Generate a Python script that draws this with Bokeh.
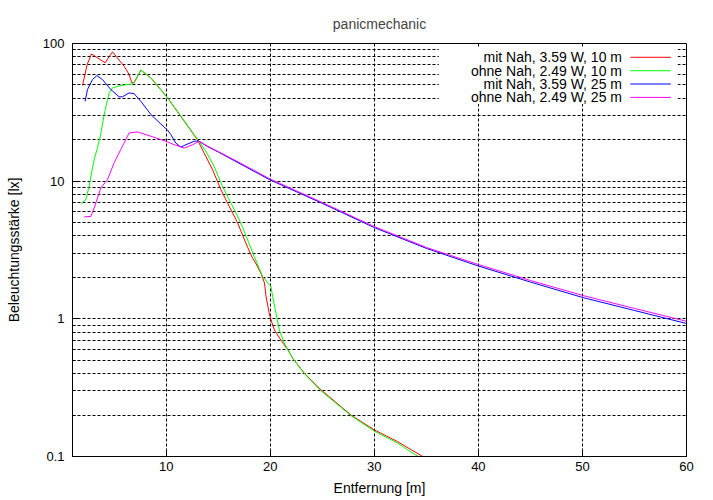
from bokeh.plotting import figure
from bokeh.models import FixedTicker, CustomJSTickFormatter, Label, BoxAnnotation, Arrow, Range1d
from bokeh.embed import file_html
from bokeh.resources import INLINE

# ---- data -------------------------------------------------------------
red_x = [1.96, 2.4, 2.83, 3.4, 4.13, 4.5, 4.85, 5.3, 5.96, 6.44, 6.7, 6.92, 7.2, 7.57, 8.53,
         10.13, 11.73, 13.0, 13.65, 14.46, 15.26, 16.06, 16.87, 17.83, 18.3, 18.6, 19.1, 19.45,
         19.6, 19.9, 20.07, 20.4, 21.03, 21.7, 22.15, 23.27, 24.88, 27.76, 30.0, 32.25, 34.65]
red_y = [49.5, 70, 84, 78.7, 72.4, 80, 87, 78.7, 68.4, 59.5, 51.8, 51.8, 57, 64, 56.3,
         40.3, 27.3, 20, 16, 12.1, 8.67, 6.56, 4.97, 3.3, 2.76, 2.54, 2.15, 1.82,
         1.45, 1.1, 0.983, 0.83, 0.70, 0.595, 0.518, 0.403, 0.305, 0.2, 0.156, 0.128, 0.1]

green_x = [1.8, 2.28, 2.6, 2.92, 3.1, 3.4, 3.72, 3.88, 4.1, 4.37, 4.52, 4.85, 5.64, 6.77, 7.09,
           7.57, 8.53, 10.13, 11.73, 13.0, 13.8, 14.6, 15.4, 16.2, 17.0, 17.35, 18.46, 19.27,
           19.9, 20.07, 20.23, 20.55, 20.87, 21.35, 22.15, 23.27, 24.88, 27.76, 30.0, 32.25, 34.2]
green_y = [6.86, 7.33, 9.2, 12.5, 14.5, 17.5, 22, 26, 32, 39, 43.8, 47.6, 49.5, 50.9, 54.7,
           64, 56.3, 40.3, 27.5, 20.2, 16.6, 12.8, 9.2, 7.0, 5.3, 4.6, 2.84, 2.03,
           1.77, 1.72, 1.45, 1.1, 0.83, 0.666, 0.518, 0.40, 0.30, 0.198, 0.153, 0.125, 0.1]

blue_x = [2.21, 2.44, 2.92, 3.34, 3.88, 4.68, 5.48, 5.8, 6.44, 6.92, 7.57, 8.53, 9.49, 10.13,
          10.45, 10.93, 11.41, 11.9, 12.7, 13.1, 14, 15, 17, 20, 25, 30, 35, 40, 45, 50, 55, 60]
blue_y = [38, 46.3, 54.7, 58.5, 54.7, 46.3, 41, 41, 43.8, 43.2, 38, 30.5, 26, 23.5,
          21.8, 18.9, 17.7, 18.4, 19.5, 19.6, 17.8, 16.3, 13.5, 10.2, 6.9, 4.6, 3.25, 2.42,
          1.85, 1.43, 1.15, 0.925]

mag_x = [2.12, 2.76, 3.08, 3.72, 4.37, 5.0, 5.64, 6.44, 7.25, 8.53, 9.97, 10.77, 11.73, 12.54,
         13.17, 14, 15, 17, 20, 25, 30, 35, 40, 45, 50, 55, 60]
mag_y = [5.5, 5.55, 6.38, 8.9, 10.3, 13.6, 17, 22.4, 22.8, 21.2, 19.5, 18.4, 17.4, 18.4,
         19.5, 17.9, 16.4, 13.7, 10.35, 7.0, 4.68, 3.3, 2.48, 1.9, 1.48, 1.19, 0.96]

series = [
    ("mit Nah, 3.59 W, 10 m", red_x, red_y, "#ff0000"),
    ("ohne Nah, 2.49 W, 10 m", green_x, green_y, "#00ff00"),
    ("mit Nah, 3.59 W, 25 m", blue_x, blue_y, "#0000ff"),
    ("ohne Nah, 2.49 W, 25 m", mag_x, mag_y, "#ff00ff"),
]

x_ticks = [10, 20, 30, 40, 50, 60]
y_ticks = [0.1, 1, 10, 100]
y_minor = [m * d for d in (0.1, 1, 10) for m in range(2, 10)]

# legend layout (data coordinates in the upper right corner)
leg_rows_y = [79.4, 63.4, 50.8, 40.6]
leg_text_x = 53.8
leg_line_x0, leg_line_x1 = 54.6, 58.5

FONT = "Liberation Sans"

p = figure(width=705, height=499, x_range=Range1d(1, 60), y_range=Range1d(0.1, 100),
           y_axis_type="log", output_backend="svg", toolbar_location=None,
           title="panicmechanic", min_border_left=72, min_border_right=19,
           min_border_top=43, min_border_bottom=43)

p.title.align = "center"
p.title.text_font = FONT
p.title.text_font_style = "normal"
p.title.text_font_size = "14px"
p.title.standoff = 24

p.outline_line_color = "black"
p.outline_line_alpha = 1
p.background_fill_color = "white"
p.border_fill_color = "white"

p.xaxis.ticker = FixedTicker(ticks=x_ticks)
p.yaxis.ticker = FixedTicker(ticks=y_ticks, minor_ticks=y_minor)
p.yaxis.formatter = CustomJSTickFormatter(code="return tick < 1 ? tick.toFixed(1) : tick.toFixed(0);")

for ax in (p.xaxis, p.yaxis):
    ax.axis_line_color = "black"
    ax.major_tick_in = 6
    ax.major_tick_out = 0
    ax.minor_tick_in = 3
    ax.minor_tick_out = 0
    ax.major_tick_line_color = "black"
    ax.minor_tick_line_color = "black"
    ax.major_label_text_font = FONT
    ax.major_label_text_font_size = "13px"
    ax.major_label_text_color = "black"
    ax.axis_label_text_font = FONT
    ax.axis_label_text_font_size = "14px"
    ax.axis_label_text_font_style = "normal"
    ax.axis_label_text_color = "black"

p.xaxis.axis_label = "Entfernung [m]"
p.yaxis.axis_label = "Beleuchtungsstärke [lx]"
p.xaxis.major_label_standoff = 5
p.xaxis.axis_label_standoff = 6
p.yaxis.major_label_standoff = 8
p.yaxis.axis_label_standoff = 18

p.xgrid.ticker = FixedTicker(ticks=x_ticks)
p.ygrid.ticker = FixedTicker(ticks=y_ticks, minor_ticks=y_minor)
for g in (p.xgrid, p.ygrid):
    g.grid_line_color = "black"
    g.grid_line_dash = "3 2"
    g.grid_line_width = 1
    g.grid_line_alpha = 1
p.ygrid.minor_grid_line_color = "black"
p.ygrid.minor_grid_line_dash = "3 2"
p.ygrid.minor_grid_line_alpha = 1

for name, xs, ys, col in series:
    p.line(xs, ys, line_color=col, line_width=1)

# opaque legend background
p.add_layout(BoxAnnotation(left=36.2, right=59.15, top=92.7, bottom=36.3,
                           fill_color="white", fill_alpha=1, line_color=None))

for (name, xs, ys, col), ly in zip(series, leg_rows_y):
    p.add_layout(Label(x=leg_text_x, y=ly, text=name, text_align="right",
                       text_baseline="middle", text_font=FONT, text_font_size="14px",
                       text_color="black"))
    p.add_layout(Arrow(x_start=leg_line_x0, y_start=ly, x_end=leg_line_x1, y_end=ly,
                       end=None, line_color=col, line_width=1))

open("out.html", "w").write(file_html(p, INLINE))
